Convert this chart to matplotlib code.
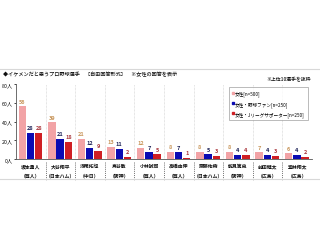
import matplotlib
matplotlib.use("Agg")
import matplotlib.pyplot as plt
from matplotlib.lines import Line2D
import numpy as np

plt.rcParams['font.family'] = ['Noto Sans CJK JP', 'DejaVu Sans']

players = ["坂本勇人", "大谷翔平", "浅尾拓也", "鳥谷敬", "小林誠司",
           "高橋由伸", "斎藤佑樹", "能見篤史", "前田健太", "堂林翔太"]
teams = ["（巨人）", "（日本ハム）", "（中日）", "（阪神）", "（巨人）",
         "（巨人）", "（日本ハム）", "（阪神）", "（広島）", "（広島）"]
women_all = [56, 39, 21, 13, 12, 8, 8, 8, 7, 6]
women_fans = [28, 21, 12, 11, 7, 7, 5, 4, 4, 4]
women_jleague = [28, 18, 9, 2, 5, 1, 3, 4, 3, 2]
series_names = ["女性[n=500]", "女性・野球ファン[n=250]", "女性・Jリーグサポーター[n=250]"]
yticks = [0, 20, 40, 60, 80]

bar_colors = ["#F2A3A6", "#0B0BB2", "#CF1F24"]
label_colors = ["#C8955A", "#1E2358", "#A8343A"]

fig = plt.figure(figsize=(3.2, 2.51), dpi=100)
W, H = 320, 251

def fx(px):
    return px / W

def fy(py):
    return 1 - py / H

# frame lines above and below the chart block
for py in (70, 180):
    fig.add_artist(plt.Line2D([0, 1], [fy(py), fy(py)], color="#D8D8D8", lw=0.8))

fig.text(fx(3), fy(74), "◆イケメンだと思うプロ野球選手　［自由回答形式］　※女性の回答を表示",
         fontsize=3.7, va="center", ha="left", color="#111111", fontweight="medium")
fig.text(fx(311), fy(79.5), "※上位10選手を抜粋", fontsize=3.5, va="center", ha="right",
         color="#111111", fontweight="medium")

ax = fig.add_axes([fx(16), fy(160), fx(312) - fx(16), fy(85) - fy(160)])
n = len(players)
x = np.arange(n) + 0.5
w = 0.25
offsets = [-0.29, -0.01, 0.27]
all_series = [women_all, women_fans, women_jleague]
for k, vals in enumerate(all_series):
    bars = ax.bar(x + offsets[k], vals, width=w, color=bar_colors[k], zorder=3)
    for b, v in zip(bars, vals):
        ax.text(b.get_x() + b.get_width() / 2, v + 3, str(v), ha="center", va="bottom",
                fontsize=4.0, color=label_colors[k], fontweight="bold")

ax.set_xlim(0, n)
ax.set_ylim(0, 80)
ax.set_yticks(yticks)
ax.set_yticklabels([f"{t}人" for t in yticks], fontsize=3.8, color="#111111")
ax.tick_params(axis="y", length=1.5, width=0.5, pad=1)
ax.set_xticks([])
for s in ("top", "right"):
    ax.spines[s].set_visible(False)
ax.spines["left"].set_linewidth(0.6)
ax.spines["left"].set_color("#555555")
ax.spines["bottom"].set_linewidth(0.6)
ax.spines["bottom"].set_color("#555555")

# dotted separators between players
for b in range(1, n):
    ax.axvline(b, color="#CCCCCC", lw=0.5, ls=(0, (1, 1)), zorder=1)
    ax.plot([b, b], [-3, -22], color="#444444", lw=0.5, ls=(0, (1.5, 1.5)), clip_on=False)

for i in range(n):
    ax.text(x[i], -7, players[i], ha="center", va="center", fontsize=3.5,
            color="#111111", fontweight="bold")
    ax.text(x[i], -17.5, teams[i], ha="center", va="center", fontsize=3.5,
            color="#111111", fontweight="bold")

handles = [Line2D([], [], marker="s", ls="none", markersize=1.7, color=c) for c in bar_colors]
leg = ax.legend(handles, series_names, loc="upper right", bbox_to_anchor=(0.995, 0.985),
                fontsize=3.35, frameon=True, fancybox=False, edgecolor="#888888",
                handlelength=0.5, handletextpad=0.2, borderpad=0.7, labelspacing=0.95)
leg.get_frame().set_linewidth(0.5)

fig.savefig("out.png", dpi=100)
